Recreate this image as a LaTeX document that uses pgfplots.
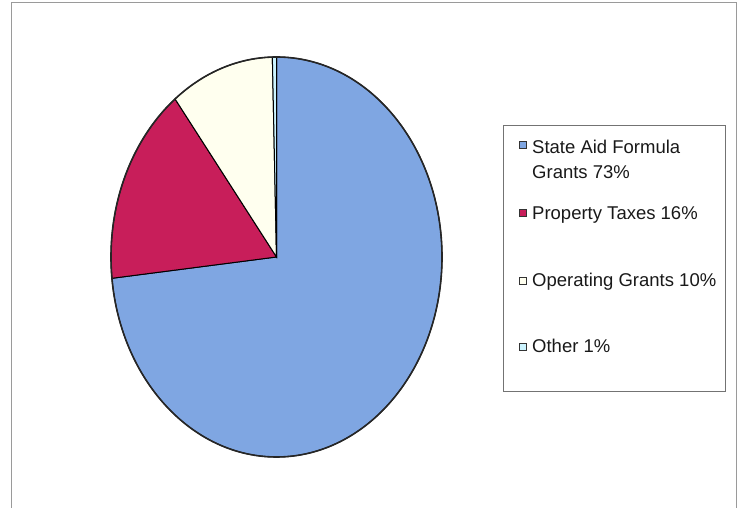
\documentclass[border=0pt]{standalone}
\usepackage{pgfplots}
\usepackage{pgfplotstable}
\usepackage{fontspec}
\setmainfont{Liberation Sans}
\pgfplotsset{compat=1.18}

\definecolor{aidblue}{HTML}{7FA6E2}
\definecolor{taxred}{HTML}{C81E5A}
\definecolor{opcream}{HTML}{FFFFEF}
\definecolor{othcyan}{HTML}{CCF4FF}
\definecolor{framegray}{HTML}{9A9A9A}

% shares as drawn (percent)
\pgfplotstableread{
share
73.3
16.2
10.1
0.4
}\piedata

\begin{document}
\begin{tikzpicture}
\pgfplotstablegetelem{0}{share}\of\piedata \let\sA\pgfplotsretval
\pgfplotstablegetelem{1}{share}\of\piedata \let\sB\pgfplotsretval
\pgfplotstablegetelem{2}{share}\of\piedata \let\sC\pgfplotsretval
\pgfplotstablegetelem{3}{share}\of\piedata \let\sD\pgfplotsretval
\pgfmathsetmacro\aA{90}
\pgfmathsetmacro\aB{\aA-3.6*\sA}
\pgfmathsetmacro\aC{\aB-3.6*\sB}
\pgfmathsetmacro\aD{\aC-3.6*\sC}
\pgfmathsetmacro\aE{\aD-3.6*\sD}
\begin{axis}[
  width=742pt, height=508pt, scale only axis,
  hide axis, clip=false,
  xmin=0, xmax=742, ymin=0, ymax=508,
  ]
  % outer frame (bottom edge lies outside the picture)
  \draw[framegray, line width=1.3pt] (axis cs:11.5,0) -- (axis cs:11.5,505.5) -- (axis cs:736.5,505.5) -- (axis cs:736.5,0);

  % pie slices, clockwise from 12 o'clock
  \filldraw[fill=aidblue, draw=black, line width=1pt] (axis cs:276.5,251) -- ++(\aA:165.5pt and 200pt)
    arc[start angle=\aA, end angle=\aB, x radius=165.5pt, y radius=200pt] -- cycle;
  \filldraw[fill=taxred, draw=black, line width=1pt] (axis cs:276.5,251) -- ++(\aB:165.5pt and 200pt)
    arc[start angle=\aB, end angle=\aC, x radius=165.5pt, y radius=200pt] -- cycle;
  \filldraw[fill=opcream, draw=black, line width=1pt] (axis cs:276.5,251) -- ++(\aC:165.5pt and 200pt)
    arc[start angle=\aC, end angle=\aD, x radius=165.5pt, y radius=200pt] -- cycle;
  \filldraw[fill=othcyan, draw=black, line width=1pt] (axis cs:276.5,251) -- ++(\aD:165.5pt and 200pt)
    arc[start angle=\aD, end angle=\aE, x radius=165.5pt, y radius=200pt] -- cycle;
  \draw[black!85, line width=1.6pt] (axis cs:276.5,251) ellipse[x radius=165.5pt, y radius=200pt];

  % legend
  \draw[black!55, line width=1pt] (axis cs:503,382) rectangle (axis cs:725,116);
  \filldraw[fill=aidblue, draw=black!80, line width=1pt] (axis cs:519,359.5) rectangle (axis cs:526,366.5);
  \filldraw[fill=taxred, draw=black!80, line width=1pt] (axis cs:519,291) rectangle (axis cs:526,298);
  \filldraw[fill=opcream, draw=black!80, line width=1pt] (axis cs:519,223.5) rectangle (axis cs:526,230.5);
  \filldraw[fill=othcyan, draw=black!80, line width=1pt] (axis cs:519,157.5) rectangle (axis cs:526,164.5);
  \begin{scope}[every node/.style={anchor=base west, inner sep=0pt, font=\fontsize{18.5}{25}\selectfont, text=black!90}]
    \node at (axis cs:532,354) {State Aid Formula};
    \node at (axis cs:532,329) {Grants 73\%};
    \node at (axis cs:532,288) {Property Taxes 16\%};
    \node at (axis cs:532,221) {Operating Grants 10\%};
    \node at (axis cs:532,155) {Other 1\%};
  \end{scope}
\end{axis}
\pgfresetboundingbox
\path[use as bounding box] (0,0) rectangle (742pt,508pt);
\end{tikzpicture}
\end{document}
